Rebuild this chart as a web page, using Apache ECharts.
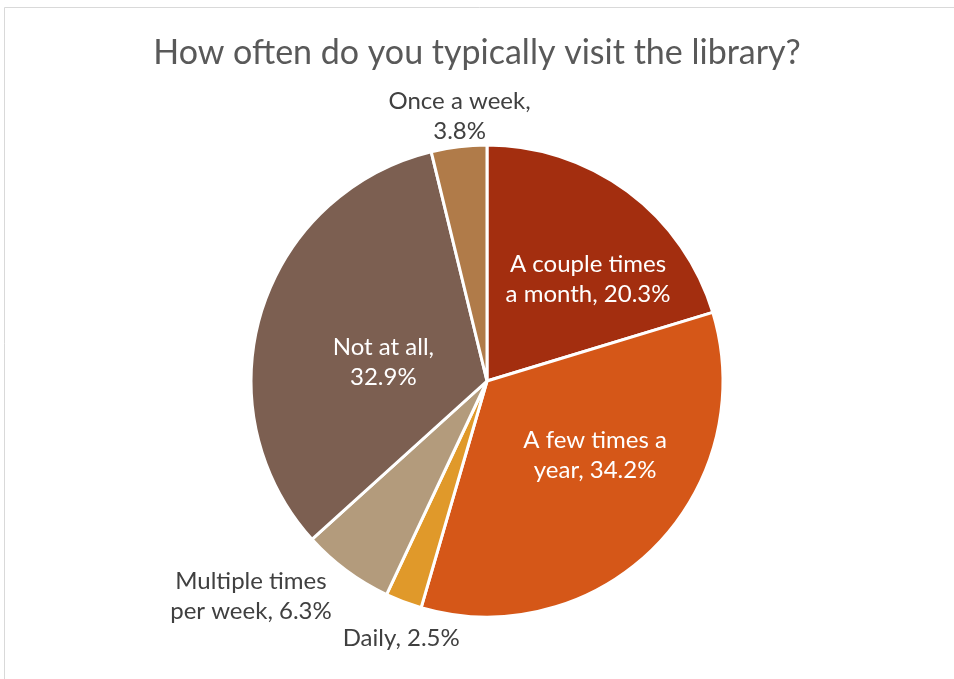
<!DOCTYPE html>
<html>
<head>
<meta charset="utf-8">
<script src="https://cdn.jsdelivr.net/npm/echarts@6/dist/echarts.min.js"></script>
<style>
  html, body { margin: 0; padding: 0; background: #fff; }
  #chart { width: 954px; height: 679px; }
</style>
</head>
<body>
<div id="chart"></div>
<script>
// Survey answers, clockwise from 12 o'clock
const categories = [
  'A couple times a month',
  'A few times a year',
  'Daily',
  'Multiple times per week',
  'Not at all',
  'Once a week'
];
const shares = [20.3, 34.2, 2.5, 6.3, 32.9, 3.8];
const sliceColors = ['#A32E0F', '#D55718', '#E0992A', '#B39B7C', '#7C5F51', '#B07B49'];
// label text split into lines
const labelLines = [
  ['A couple times', 'a month, 20.3%'],
  ['A few times a', 'year, 34.2%'],
  ['Daily, 2.5%'],
  ['Multiple times', 'per week, 6.3%'],
  ['Not at all,', '32.9%'],
  ['Once a week,', '3.8%']
];
const insideLabel = [true, true, false, false, true, false];
// nudges from the default inside anchor
const labelShift = [[29, -5], [22, -11], [-43, 144], [-164, 118], [12, 17], [-13, -145]];

const chart = echarts.init(document.getElementById('chart'));

chart.setOption({
  backgroundColor: '#ffffff',
  animation: false,
  title: {
    text: 'How often do you typically visit the library?',
    left: 'center',
    top: 31,
    textStyle: { fontFamily: 'Lato', fontWeight: 'normal', fontSize: 34, color: '#595959' }
  },
  graphic: [{
    type: 'rect',
    shape: { x: 4.5, y: 7.5, width: 1200, height: 1000 },
    style: { fill: 'none', stroke: '#d9d9d9', lineWidth: 1 },
    silent: true
  }],
  series: [{
    type: 'pie',
    center: [487, 381],
    radius: [0, 236],
    startAngle: 90,
    clockwise: true,
    avoidLabelOverlap: false,
    itemStyle: { borderColor: '#ffffff', borderWidth: 3 },
    label: {
      show: true,
      position: 'inside',
      fontFamily: 'Lato',
      fontSize: 24,
      lineHeight: 30,
      formatter: p => labelLines[p.dataIndex].join('\n')
    },
    labelLine: { show: false },
    labelLayout: p => ({ dx: labelShift[p.dataIndex][0], dy: labelShift[p.dataIndex][1] }),
    data: categories.map((name, i) => ({
      name,
      value: shares[i],
      itemStyle: { color: sliceColors[i] },
      label: { color: insideLabel[i] ? '#ffffff' : '#404040' }
    }))
  }]
});
</script>
</body>
</html>
